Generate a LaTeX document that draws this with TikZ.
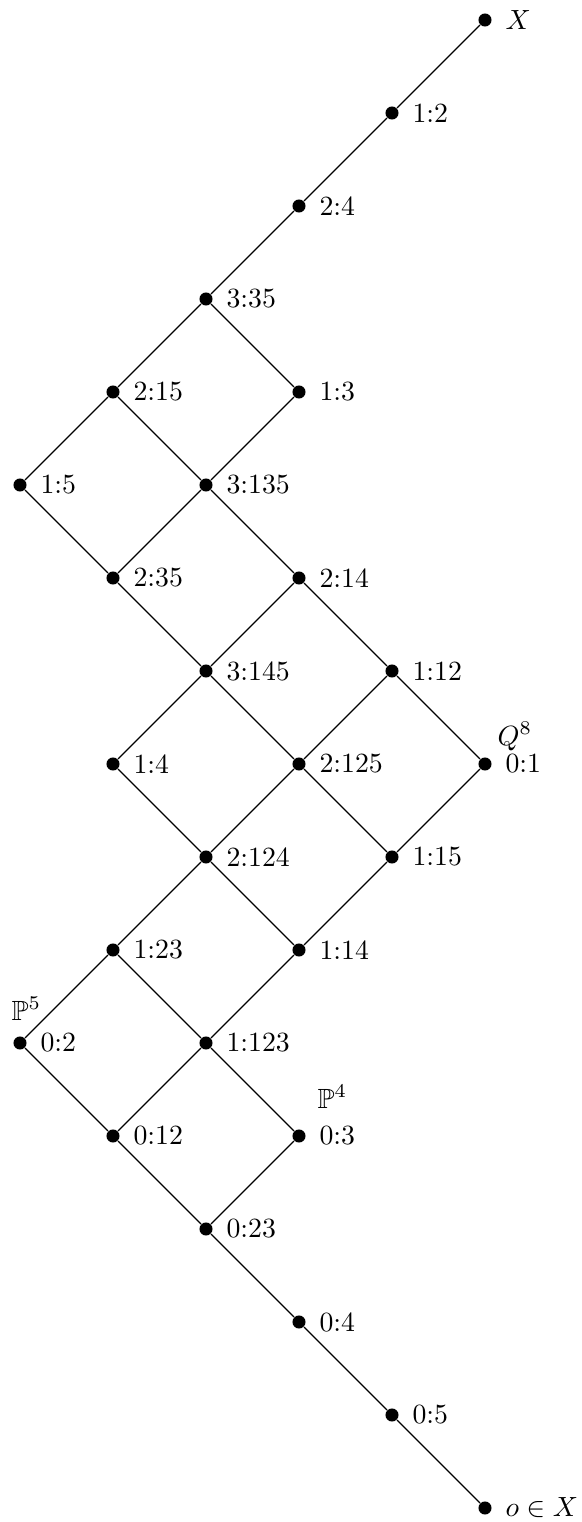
\documentclass[tikz,border=0pt]{standalone}
\usepackage{amssymb}
\begin{document}
\begin{tikzpicture}[x=0.36pt,y=-0.36pt,
  dot/.style={circle,fill=black,inner sep=0pt,minimum size=4.7pt},
  lbl/.style={anchor=west,inner sep=0pt,xshift=7.2pt},
  extra/.style={anchor=base west,inner sep=0pt},
  edge/.style={line width=0.5pt}]
\useasboundingbox (0,0) rectangle (581,1522);
% dots (column c -> x=20+93c, row r -> y=20+93r)
\node[dot] (nX)    at (485,20)   {};
\node[dot] (n12)   at (392,113)  {};
\node[dot] (n24)   at (299,206)  {};
\node[dot] (n335)  at (206,299)  {};
\node[dot] (n215)  at (113,392)  {};
\node[dot] (n13)   at (299,392)  {};
\node[dot] (n15)   at (20,485)   {};
\node[dot] (n3135) at (206,485)  {};
\node[dot] (n235)  at (113,578)  {};
\node[dot] (n214)  at (299,578)  {};
\node[dot] (n3145) at (206,671)  {};
\node[dot] (n112)  at (392,671)  {};
\node[dot] (n14)   at (113,764)  {};
\node[dot] (n2125) at (299,764)  {};
\node[dot] (n01)   at (485,764)  {};
\node[dot] (n2124) at (206,857)  {};
\node[dot] (n115)  at (392,857)  {};
\node[dot] (n123)  at (113,950)  {};
\node[dot] (n114)  at (299,950)  {};
\node[dot] (n02)   at (20,1043)  {};
\node[dot] (n1123) at (206,1043) {};
\node[dot] (n012)  at (113,1136) {};
\node[dot] (n03)   at (299,1136) {};
\node[dot] (n023)  at (206,1229) {};
\node[dot] (n04)   at (299,1322) {};
\node[dot] (n05)   at (392,1415) {};
\node[dot] (no)    at (485,1508) {};
% labels
\node[lbl] (lX)    at (nX.center)    {$X$};
\node[lbl] (l12)   at (n12.center)   {1:2};
\node[lbl] (l24)   at (n24.center)   {2:4};
\node[lbl] (l335)  at (n335.center)  {3:35};
\node[lbl] (l215)  at (n215.center)  {2:15};
\node[lbl] (l13)   at (n13.center)   {1:3};
\node[lbl] (l15)   at (n15.center)   {1:5};
\node[lbl] (l3135) at (n3135.center) {3:135};
\node[lbl] (l235)  at (n235.center)  {2:35};
\node[lbl] (l214)  at (n214.center)  {2:14};
\node[lbl] (l3145) at (n3145.center) {3:145};
\node[lbl] (l112)  at (n112.center)  {1:12};
\node[lbl] (l14)   at (n14.center)   {1:4};
\node[lbl] (l2125) at (n2125.center) {2:125};
\node[lbl] (l01)   at (n01.center)   {0:1};
\node[lbl] (l2124) at (n2124.center) {2:124};
\node[lbl] (l115)  at (n115.center)  {1:15};
\node[lbl] (l123)  at (n123.center)  {1:23};
\node[lbl] (l114)  at (n114.center)  {1:14};
\node[lbl] (l02)   at (n02.center)   {0:2};
\node[lbl] (l1123) at (n1123.center) {1:123};
\node[lbl] (l012)  at (n012.center)  {0:12};
\node[lbl] (l03)   at (n03.center)   {0:3};
\node[lbl] (l023)  at (n023.center)  {0:23};
\node[lbl] (l04)   at (n04.center)   {0:4};
\node[lbl] (l05)   at (n05.center)   {0:5};
\node[lbl] (lo)    at (no.center)    {$o\in X$};
% extra labels
\node[extra] (Q8) at (497,745)  {$Q^8$};
\node[extra] (P5) at (11,1020)  {$\mathbb{P}^5$};
\node[extra] (P4) at (317,1108) {$\mathbb{P}^4$};
% edges
\draw[edge] (nX) -- (n12);
\draw[edge] (n12) -- (n24);
\draw[edge] (n24) -- (n335);
\draw[edge] (n335) -- (n215);
\draw[edge] (n335) -- (n13);
\draw[edge] (n215) -- (n15);
\draw[edge] (n215) -- (n3135);
\draw[edge] (n13) -- (n3135);
\draw[edge] (n15) -- (n235);
\draw[edge] (n3135) -- (n235);
\draw[edge] (n3135) -- (n214);
\draw[edge] (n235) -- (n3145);
\draw[edge] (n214) -- (n3145);
\draw[edge] (n214) -- (n112);
\draw[edge] (n3145) -- (n14);
\draw[edge] (n3145) -- (n2125);
\draw[edge] (n112) -- (n2125);
\draw[edge] (n112) -- (n01);
\draw[edge] (n14) -- (n2124);
\draw[edge] (n2125) -- (n2124);
\draw[edge] (n2125) -- (n115);
\draw[edge] (n01) -- (n115);
\draw[edge] (n2124) -- (n123);
\draw[edge] (n2124) -- (n114);
\draw[edge] (n115) -- (n114);
\draw[edge] (n123) -- (n02);
\draw[edge] (n123) -- (n1123);
\draw[edge] (n114) -- (n1123);
\draw[edge] (n02) -- (n012);
\draw[edge] (n1123) -- (n012);
\draw[edge] (n1123) -- (n03);
\draw[edge] (n012) -- (n023);
\draw[edge] (n03) -- (n023);
\draw[edge] (n023) -- (n04);
\draw[edge] (n04) -- (n05);
\draw[edge] (n05) -- (no);
\end{tikzpicture}
\end{document}
